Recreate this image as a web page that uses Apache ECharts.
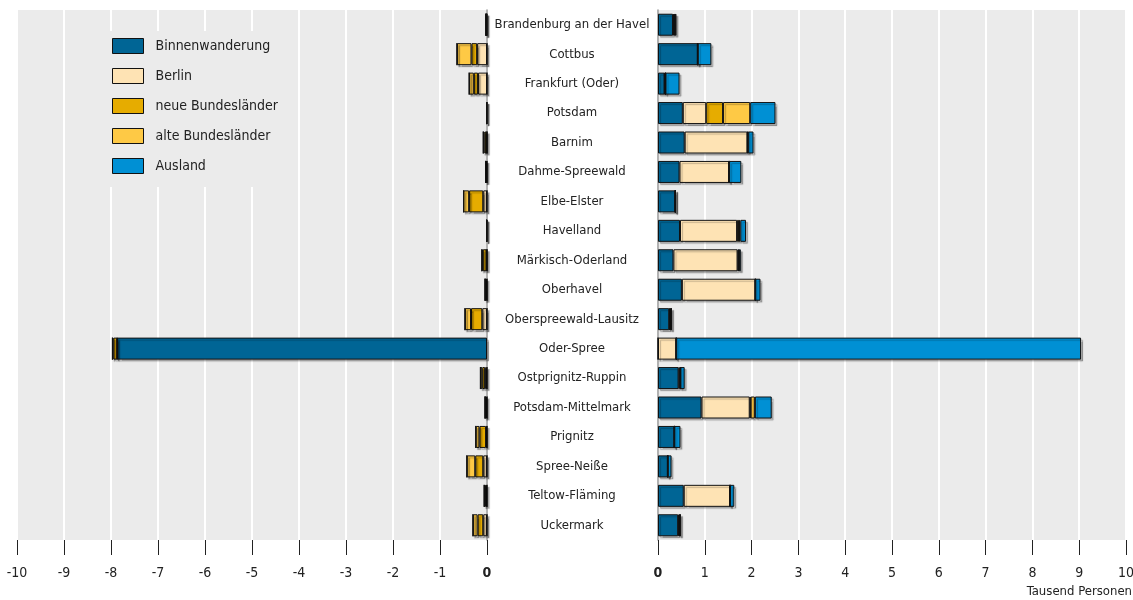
<!DOCTYPE html>
<html>
<head>
<meta charset="utf-8">
<script src="https://cdn.jsdelivr.net/npm/echarts@6/dist/echarts.min.js"></script>
<style>
  html, body { margin: 0; padding: 0; background: #fff; }
  #chart { width: 1133px; height: 600px; }
</style>
</head>
<body>
<div id="chart"></div>
<script>
var categories = ['Brandenburg an der Havel', 'Cottbus', 'Frankfurt (Oder)', 'Potsdam', 'Barnim',
	'Dahme-Spreewald', 'Elbe-Elster', 'Havelland', 'Märkisch-Oderland', 'Oberhavel',
	'Oberspreewald-Lausitz', 'Oder-Spree', 'Ostprignitz-Ruppin', 'Potsdam-Mittelmark',
	'Prignitz', 'Spree-Neiße', 'Teltow-Fläming', 'Uckermark'];

var seriesNames = ['Binnenwanderung', 'Berlin', 'neue Bundesländer', 'alte Bundesländer', 'Ausland'];
var seriesColors = ['#006595', '#fee3b4', '#e6ac00', '#fec945', '#0090d4'];

// right panel (Tausend Personen)
var binnenIn   = [0.32, 0.85, 0.14, 0.53, 0.57, 0.46, 0.37, 0.47, 0.33, 0.51, 0.24, 0,    0.44, 0.93, 0.35, 0.21, 0.55, 0.43];
var berlinIn   = [0.02, 0,    0.01, 0.50, 1.34, 1.06, 0,    1.22, 1.37, 1.57, 0.01, 0.39, 0.02, 1.03, 0,    0,    0.99, 0.02];
var neueIn     = [0.02, 0,    0.01, 0.36, 0.01, 0,    0,    0.04, 0.02, 0,    0.03, 0,    0.02, 0.02, 0,    0,    0,    0.02];
var alteIn     = [0.01, 0,    0,    0.58, 0.01, 0,    0,    0.03, 0.01, 0,    0,    0,    0,    0.09, 0,    0,    0,    0];
var auslandIn  = [0.02, 0.29, 0.30, 0.54, 0.11, 0.26, 0,    0.12, 0.04, 0.11, 0.01, 8.65, 0.09, 0.36, 0.13, 0.08, 0.09, 0.01];

// left panel
var binnenOut  = [0,     0,     0,     0,     0,     0,     0,     0,     0,     0,     0,     -7.87, 0,     0,     0,     0,     0,     0];
var berlinOut  = [-0.02, -0.21, -0.19, -0.01, -0.01, -0.02, -0.08, -0.01, -0.01, -0.02, -0.10, 0,     -0.04, -0.02, -0.02, -0.08, -0.02, -0.08];
var neueOut    = [0,     -0.12, -0.09, 0,     -0.04, -0.01, -0.30, 0,     -0.08, -0.02, -0.24, -0.08, -0.06, -0.02, -0.14, -0.17, -0.03, -0.12];
var alteOut    = [0,     -0.31, -0.10, 0,     -0.03, 0,     -0.12, 0,     -0.02, 0,     -0.13, -0.02, -0.04, 0,     -0.08, -0.18, -0.01, -0.10];
var auslandOut = [0,     0,     0,     0,     0,     0,     0,     0,     0,     0,     0,     0,     0,     0,     0,     0,     0,     0];

var leftTicks = [-10, -9, -8, -7, -6, -5, -4, -3, -2, -1, 0];
var rightTicks = [0, 1, 2, 3, 4, 5, 6, 7, 8, 9, 10];

var FONT = "'DejaVu Sans Condensed', 'Liberation Sans Narrow', sans-serif";

var inData = [binnenIn, berlinIn, neueIn, alteIn, auslandIn];
var outData = [binnenOut, berlinOut, neueOut, alteOut, auslandOut];

function barSeries(i, data, side) {
	return {
		name: seriesNames[i],
		type: 'bar',
		stack: side,
		xAxisIndex: side === 'L' ? 0 : 1,
		yAxisIndex: side === 'L' ? 0 : 1,
		data: data,
		barWidth: 22,
		color: seriesColors[i],
		itemStyle: {
			color: seriesColors[i],
			borderColor: '#111',
			borderWidth: 1,
			shadowColor: 'rgba(0,0,0,0.25)',
			shadowOffsetX: 2,
			shadowOffsetY: 2,
			shadowBlur: 1
		},
		emphasis: { disabled: true }
	};
}

function tickLabel(value) {
	return value === 0 ? '{b|0}' : String(value);
}

var series = [];
for (var i = 0; i < 5; i++) series.push(barSeries(i, outData[i], 'L'));
for (var j = 0; j < 5; j++) series.push(barSeries(j, inData[j], 'R'));

var xAxisCommon = function (ticks, idx) {
	return {
		type: 'value',
		gridIndex: idx,
		min: ticks[0],
		max: ticks[ticks.length - 1],
		interval: 1,
		axisLine: { show: false },
		axisTick: { show: true, length: 15, lineStyle: { color: '#222', width: 1 } },
		axisLabel: {
			margin: 26,
			fontFamily: FONT,
			fontSize: 14,
			color: '#222',
			formatter: tickLabel,
			rich: { b: { fontFamily: FONT, fontSize: 14, fontWeight: 'bold', color: '#222' } }
		},
		splitLine: { show: true, lineStyle: { color: '#fff', width: 2 } }
	};
};

var chart = echarts.init(document.getElementById('chart'));
chart.setOption({
	animation: false,
	grid: [
		{ left: 17, width: 470, top: 10, height: 530, show: true, backgroundColor: '#ebebeb', borderWidth: 0, outerBoundsMode: 'none' },
		{ left: 658, width: 468, top: 10, height: 530, show: true, backgroundColor: '#ebebeb', borderWidth: 0, outerBoundsMode: 'none' }
	],
	legend: {
		data: seriesNames,
		orient: 'vertical',
		left: 95,
		top: 31,
		z: 10,
		icon: 'rect',
		backgroundColor: '#ebebeb',
		padding: [7, 8, 13, 17],
		itemWidth: 31,
		itemHeight: 15,
		itemGap: 14,
		selectedMode: false,
		textStyle: { fontFamily: FONT, fontSize: 14, color: '#222', padding: [0, 0, 0, 7] },
		itemStyle: { borderColor: '#111', borderWidth: 1, shadowBlur: 0, shadowOffsetX: 0, shadowOffsetY: 0 }
	},
	xAxis: [xAxisCommon(leftTicks, 0), xAxisCommon(rightTicks, 1)],
	yAxis: [
		{
			type: 'category', gridIndex: 0, data: categories, inverse: true, position: 'right',
			axisLine: { show: true, onZero: false, lineStyle: { color: '#999', width: 1.5 } },
			axisTick: { show: false }, axisLabel: { show: false }, splitLine: { show: false }
		},
		{
			type: 'category', gridIndex: 1, data: categories, inverse: true, position: 'left',
			axisLine: { show: true, onZero: false, lineStyle: { color: '#999', width: 1.5 } },
			axisTick: { show: false },
			axisLabel: { margin: 86, align: 'center', fontFamily: FONT, fontSize: 13, color: '#222' },
			splitLine: { show: false }
		}
	],
	graphic: [{
		type: 'text', right: 1, top: 585,
		style: { text: 'Tausend Personen', fontFamily: FONT, fontSize: 13, fill: '#222' }
	}],
	series: series
});
</script>
</body>
</html>
